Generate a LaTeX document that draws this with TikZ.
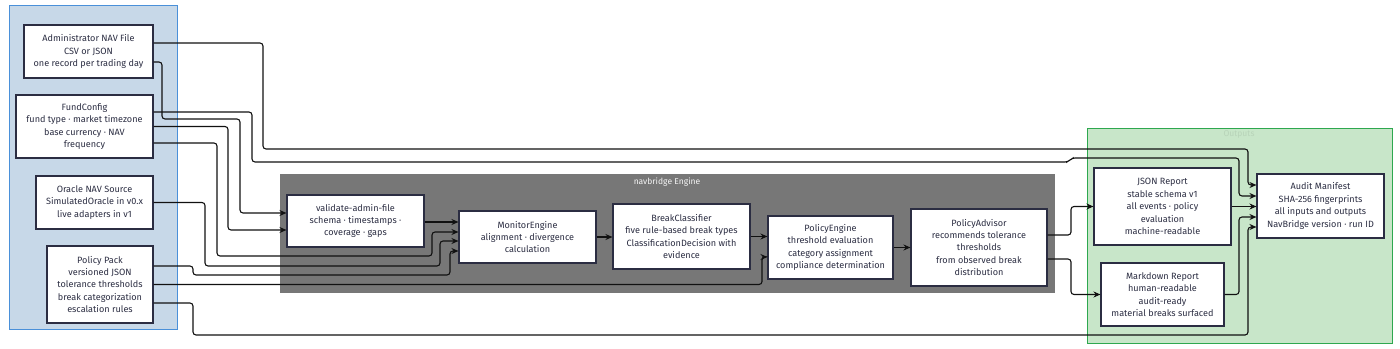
\documentclass[tikz,border=0pt]{standalone}
\usepackage{fontspec}
\setmainfont{Fira Sans}
\usetikzlibrary{arrows.meta}
\definecolor{txt}{HTML}{2B2D42}
\definecolor{bluefill}{HTML}{C7D8E8}
\definecolor{blueedge}{HTML}{4A90D9}
\definecolor{greenfill}{HTML}{C8E6C9}
\definecolor{greenedge}{HTML}{2EA84F}
\definecolor{enginefill}{HTML}{777777}
\definecolor{wire}{HTML}{111111}
\begin{document}
\begin{tikzpicture}[x=1pt,y=-1pt,
  box/.style={draw=txt,line width=1.1pt,fill=white,inner sep=0pt,align=center,
    text=txt,font=\fontsize{9.1}{12.4}\selectfont},
  conn/.style={draw=wire,line width=1.1pt,rounded corners=3pt,-{Stealth[length=7pt,width=6pt]}},
  panellabel/.style={font=\fontsize{8.5}{10}\selectfont}]
\useasboundingbox (0,0) rectangle (1400,348);
% panels
\fill[bluefill] (9,5) rectangle (177,329);
\draw[blueedge,line width=1pt] (9,5) rectangle (177,329);
\fill[greenfill] (1087,128) rectangle (1392,343);
\draw[greenedge,line width=1pt] (1087,128) rectangle (1392,343);
\node[panellabel,text=greenfill!92!black] (outlbl) at (1239,134) {Outputs};
\fill[enginefill] (280,174) rectangle (1055,293);
\node[panellabel,text=white!92!gray] (englbl) at (667,182) {navbridge Engine};
% input nodes
\node[box,minimum width=129,minimum height=53] (admin) at (88.5,51.5)
  {Administrator NAV File\\CSV or JSON\\one record per trading day};
\node[box,minimum width=137,minimum height=63] (fund) at (84.5,126.5)
  {FundConfig\\fund type · market timezone\\base currency · NAV\\frequency};
\node[box,minimum width=117,minimum height=53] (oracle) at (94.5,202.5)
  {Oracle NAV Source\\SimulatedOracle in v0.x\\live adapters in v1};
\node[box,minimum width=106,minimum height=77] (pack) at (100,284.5)
  {Policy Pack\\versioned JSON\\tolerance thresholds\\break categorization\\escalation rules};
% engine nodes
\node[box,minimum width=137,minimum height=52] (validate) at (355.5,221)
  {validate-admin-file\\schema · timestamps ·\\coverage · gaps};
\node[box,minimum width=137,minimum height=52] (monitor) at (527.5,237)
  {MonitorEngine\\alignment · divergence\\calculation};
\node[box,minimum width=137,minimum height=65] (classifier) at (681.5,236.5)
  {BreakClassifier\\five rule-based break types\\ClassificationDecision with\\evidence};
\node[box,minimum width=125,minimum height=63] (pengine) at (830.5,247.5)
  {PolicyEngine\\threshold evaluation\\category assignment\\compliance determination};
\node[box,minimum width=136,minimum height=77] (advisor) at (979,247.5)
  {PolicyAdvisor\\recommends tolerance\\thresholds\\from observed break\\distribution};
% output nodes
\node[box,minimum width=137,minimum height=77] (json) at (1162.5,206.5)
  {JSON Report\\stable schema v1\\all events · policy\\evaluation\\machine-readable};
\node[box,minimum width=123,minimum height=63] (md) at (1162.5,294.5)
  {Markdown Report\\human-readable\\audit-ready\\material breaks surfaced};
\node[box,minimum width=127,minimum height=64] (audit) at (1320.5,206)
  {Audit Manifest\\SHA-256 fingerprints\\all inputs and outputs\\NavBridge version · run ID};
% connectors from inputs
\draw[conn] ([yshift=8.5]admin.east) -| (263,149) -| (1248,185) -- ([yshift=21]audit.west);
\draw[conn] ([yshift=-10.5]admin.east) -| (162,119) -| (240,213) -- ([yshift=8]validate.west);
\draw[conn] ([yshift=14.5]fund.east) -| (252,162) -- (1068,162) -- (1072,158) -| (1239,196) -- ([yshift=10]audit.west);
\draw[conn] (fund.east) -| (228,230) -- ([yshift=-9]validate.west);
\draw[conn] ([yshift=-16.5]fund.east) -| (217,256) -| (432,232) -- ([yshift=5]monitor.west);
\draw[conn] (oracle.east) -| (205,266) -| (440,241) -- ([yshift=-4]monitor.west);
\draw[conn] ([yshift=18.5]pack.east) -| (193,275) -| (450,251) -- ([yshift=-14]monitor.west);
\draw[conn] (pack.east) -| (762,257) -- ([yshift=-9.5]pengine.west);
\draw[conn] ([yshift=-18.5]pack.east) -| (193,335) -| (1248,227) -- ([yshift=-21]audit.west);
% engine chain
\draw[conn] ([yshift=-1]validate.east) -- ([yshift=15]monitor.west);
\draw[conn] (monitor.east) -- (monitor.east -| classifier.west);
\draw[conn] (classifier.east) -- (classifier.east -| pengine.west);
\draw[conn] (pengine.east) -- (pengine.east -| advisor.west);
% outputs
\draw[conn] ([yshift=12.5]advisor.east) -| (1071,206.5) -- (json.west);
\draw[conn] ([yshift=-11.5]advisor.east) -| (1071,294.5) -- (md.west);
\draw[conn] (json.east) -- (json.east -| audit.west);
\draw[conn] (md.east) -| (1239,217) -- ([yshift=-11]audit.west);
\end{tikzpicture}
\end{document}
